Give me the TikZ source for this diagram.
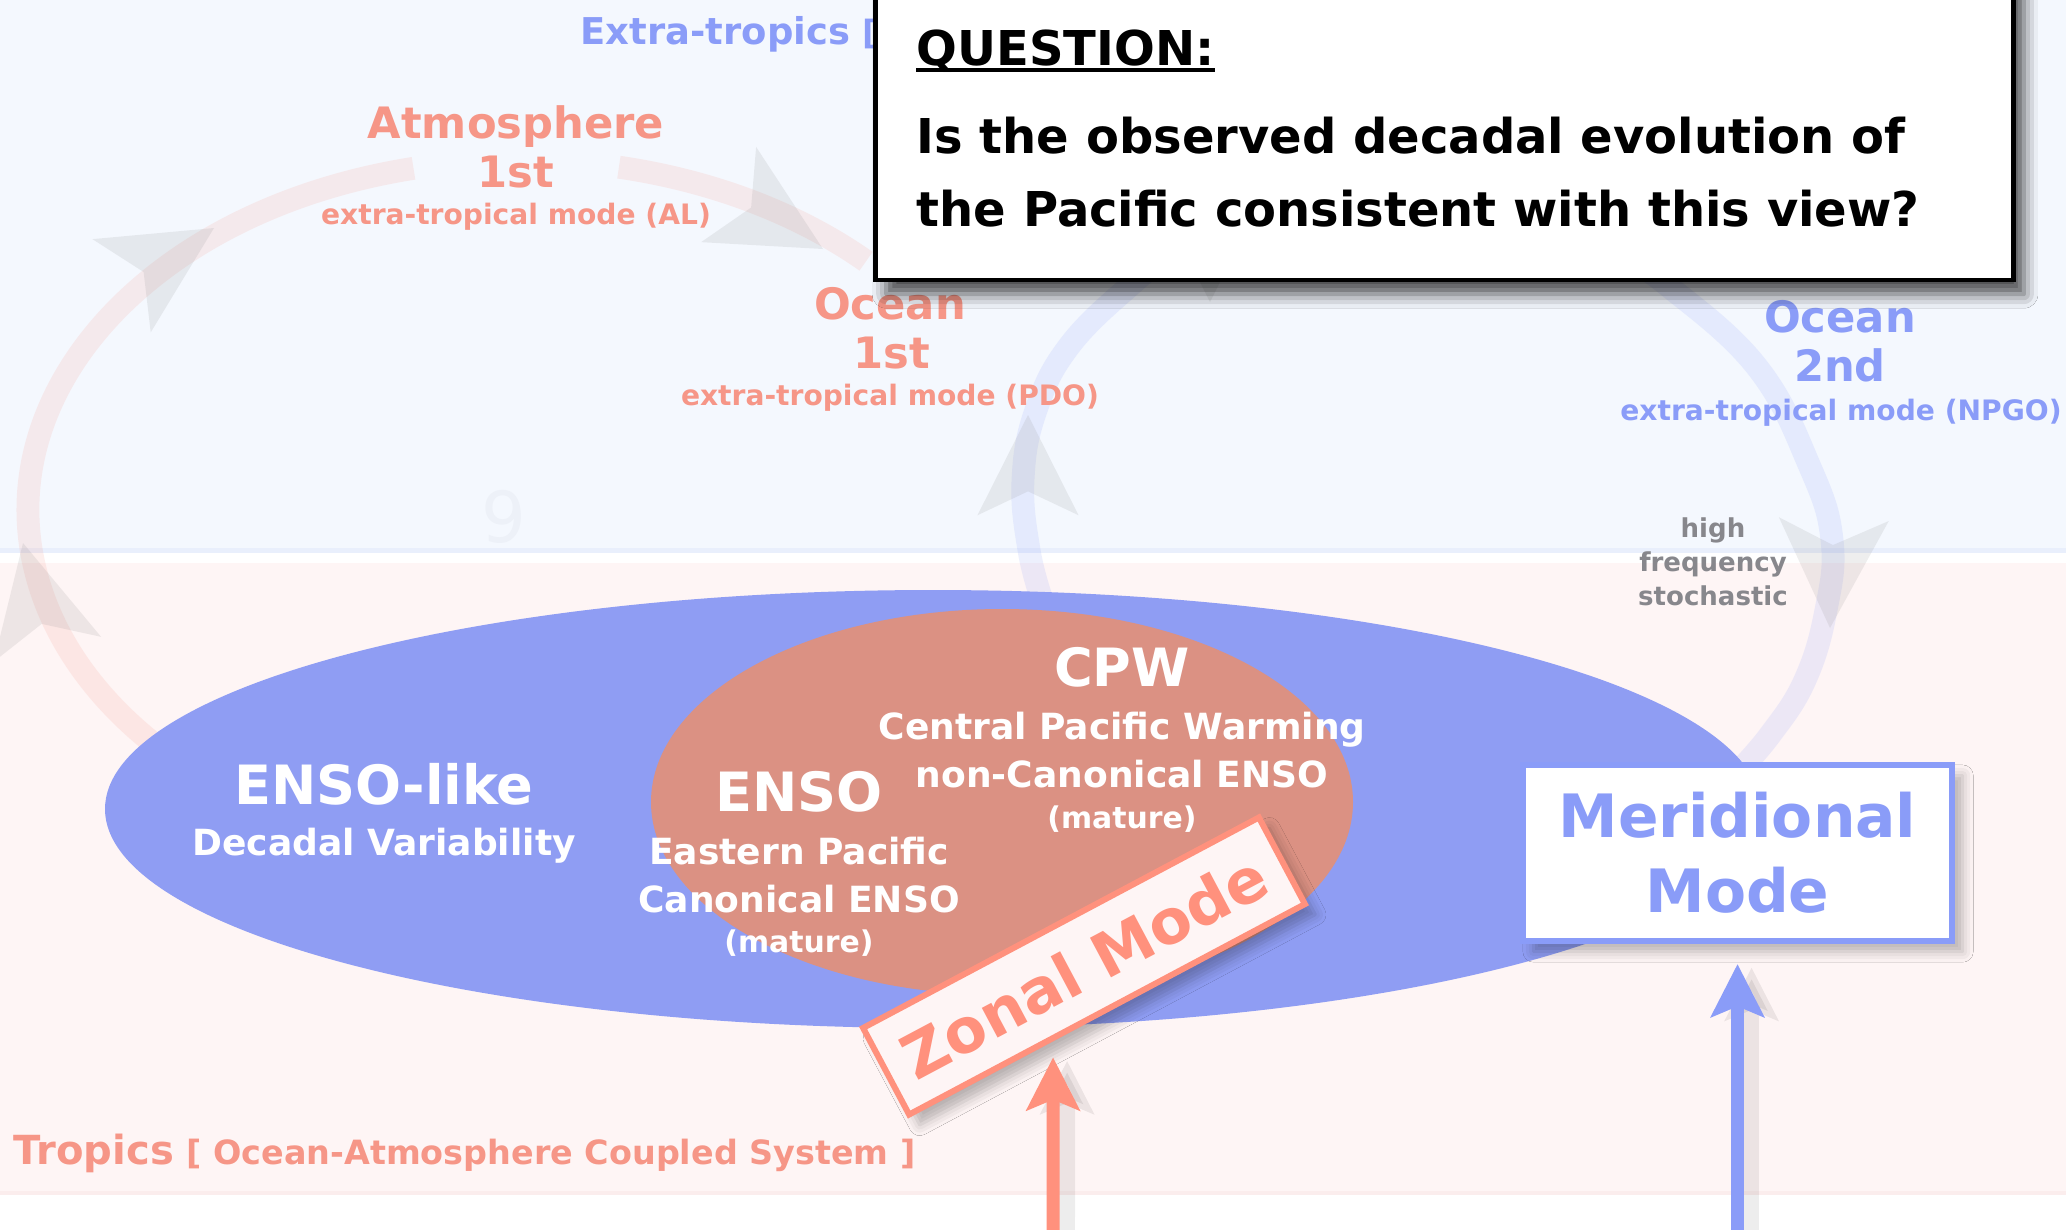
\documentclass[tikz,border=0pt]{standalone}
\usepackage{fontspec}
\setmainfont{DejaVu Sans}
\usetikzlibrary{arrows.meta,calc,shadows.blur}

\definecolor{skybg}{RGB}{244,248,254}
\definecolor{skyline}{RGB}{233,239,252}
\definecolor{pinkbg}{RGB}{254,245,245}
\definecolor{pinkline}{RGB}{251,237,237}
\definecolor{salmon}{RGB}{246,150,135}
\definecolor{zonalred}{RGB}{255,145,125}
\definecolor{modeblue}{RGB}{138,156,248}
\definecolor{decadal}{RGB}{143,157,243}
\definecolor{ensofill}{RGB}{219,145,131}
\definecolor{hfgray}{RGB}{135,135,140}
\definecolor{pagegray}{RGB}{237,241,248}

\newcommand{\fs}[1]{\fontsize{#1}{#1}\selectfont}
% faint grey arrowheads sitting on the cycles
\newcommand{\ghosthead}[4][1]{\fill[gray, opacity=0.13, shift={(#2,#3)}, rotate=#4, scale=#1] (0,0) -- (-109,55) -- (-83,0) -- (-109,-55) -- cycle;}

\begin{document}
\begin{tikzpicture}[x=0.01cm, y=-0.01cm, every node/.style={font=\bfseries, inner sep=0pt},
  >={Stealth[length=15pt, width=15pt, inset=3pt]},
  big/.style={font=\bfseries\fs{12.3}, anchor=base},
  small/.style={font=\bfseries\fs{8}, anchor=base},
  head/.style={font=\bfseries\fs{15.4}, text=white, anchor=base},
  sub/.style={font=\bfseries\fs{10.25}, text=white, anchor=base},
  mature/.style={font=\bfseries\fs{8.5}, text=white, anchor=base},
  hf/.style={font=\bfseries\fs{7.4}, text=hfgray, anchor=base},
  ring/.style={line width=6.5pt, opacity=0.15},
  qtext/.style={font=\bfseries\fs{13.65}, anchor=base west},
  boxshadow/.style={blur shadow={shadow xshift=3pt, shadow yshift=-3pt, shadow blur radius=3pt, shadow opacity=28}},
  arrowshadow/.style={->, line width=4.5pt, black, opacity=0.07, transform canvas={xshift=4pt, yshift=-1pt}}]
	\useasboundingbox (0,0) rectangle (2066,1229);
	\clip (0,0) rectangle (2066,1229);
	\fill[white] (0,0) rectangle (2066,1229);
	% bands
	\fill[skybg] (0,0) rectangle (2066,553);
	\fill[skyline] (0,548) rectangle (2066,553);
	\fill[pinkbg] (0,563) rectangle (2066,1195);
	\fill[pinkline] (0,1191) rectangle (2066,1195);
	% cycles
	\draw[ring, salmon] ([shift={(257.5:492 and 350)}]520,510) arc[start angle=257.5, end angle=133, x radius=492, y radius=350];
	\draw[ring, salmon] ([shift={(281.6:492 and 350)}]520,510) arc[start angle=281.6, end angle=314.7, x radius=492, y radius=350];
	\draw[ring, modeblue] plot[smooth, tension=0.7] coordinates {(1042,600) (1029,550) (1023,480) (1036,410) (1070,345) (1133,283) (1170,255)};
	\draw[ring, modeblue] plot[smooth, tension=0.7] coordinates {(1630,262) (1667,285) (1757,367) (1810,467) (1832,540) (1826,610) (1805,680) (1770,735) (1735,775)};
	\ghosthead{23}{543}{103}
	\ghosthead{214}{228}{32}
	\ghosthead{823}{249}{-30}
	\ghosthead[0.92]{1028}{415}{90}
	\ghosthead{1830}{628}{-92}
	\ghosthead{1210}{302}{-90}
	\node[font=\fs{20}, text=pagegray] (pagenum) at (504,517) {9};
	% tropical modes
	\fill[decadal] (933,809) ellipse[x radius=828, y radius=219];
	\fill[ensofill] (1002,802) ellipse[x radius=351, y radius=193];
	\node[head] (ensolike) at (384,804) {ENSO-like};
	\node[sub] (decvar) at (384,855) {Decadal Variability};
	\node[head] (enso) at (799,811) {ENSO};
	\node[sub] (eastpac) at (799,864) {Eastern Pacific};
	\node[sub] (canon) at (799,912) {Canonical ENSO};
	\node[mature] (epmature) at (799,952) {(mature)};
	\node[head, font=\bfseries\fs{15}] (cpw) at (1122,686) {CPW};
	\node[sub] (cpwarm) at (1122,739) {Central Pacific Warming};
	\node[sub] (noncanon) at (1122,787) {non-Canonical ENSO};
	\node[mature] (cpmature) at (1122,828) {(mature)};
	\node[boxshadow, rotate=28, fill=pinkbg, draw=zonalred, line width=1.7pt, text=zonalred,
		minimum width=4.48cm, minimum height=0.98cm, font=\bfseries\fs{17.5}] (zonal) at (1084,966) {Zonal Mode};
	\node[boxshadow, fill=white, draw=modeblue, line width=1.7pt, text=modeblue, align=center,
		minimum width=4.29cm, minimum height=1.76cm, font=\bfseries\fontsize{17}{21.3}\selectfont] (merid) at (1737.5,853) {Meridional\\Mode};
	\coordinate (zfoot) at (1053,1240);
	\coordinate (ztip) at ($(zonal.south west)!0.362!(zonal.south east)$);
	\coordinate (mfoot) at (1737.5,1240);
	\draw[arrowshadow, shorten >=0.16cm] (zfoot) -- (ztip);
	\draw[arrowshadow, shorten >=0.2cm] (mfoot) -- (merid.south);
	\draw[->, line width=3.7pt, zonalred, shorten >=0.16cm] (zfoot) -- (ztip);
	\draw[->, line width=3.7pt, modeblue, shorten >=0.2cm] (mfoot) -- (merid.south);
	% extra-tropical modes
	\node[big, text=salmon] (atm) at (516,138) {Atmosphere};
	\node[big, text=salmon] (atmrank) at (516,187) {1st};
	\node[small, text=salmon] (atmmode) at (516,224) {extra-tropical mode (AL)};
	\node[big, text=salmon] (ocnA) at (890,319) {Ocean};
	\node[big, text=salmon] (ocnArank) at (892,368) {1st};
	\node[small, text=salmon] (ocnAmode) at (890,405) {extra-tropical mode (PDO)};
	\node[big, text=modeblue] (ocnB) at (1840,332) {Ocean};
	\node[big, text=modeblue] (ocnBrank) at (1840,381) {2nd};
	\node[small, text=modeblue] (ocnBmode) at (1841,420) {extra-tropical mode (NPGO)};
	\node[hf] (hfA) at (1713,537) {high};
	\node[hf] (hfB) at (1713,571) {frequency};
	\node[hf] (hfC) at (1713,605) {stochastic};
	\node[anchor=base west, text=salmon] (tropics) at (13,1164) {{\fs{11.4}Tropics} {\fs{9.5}[ Ocean-Atmosphere Coupled System ]}};
	\node[anchor=base west, text=modeblue] (extratropics) at (580,44) {{\fs{10.5}Extra-tropics} {\fs{9.5}[}};
	% question
	\node[fill=white, draw=black, line width=1.3pt, minimum width=11.37cm, minimum height=3.1cm,
		blur shadow={shadow xshift=3pt, shadow yshift=-4pt, shadow blur radius=4pt, shadow opacity=70}] (question) at (1444.5,125) {};
	\node[qtext] (qhead) at (916,65) {QUESTION:};
	\draw[line width=1.2pt] ([yshift=-1.4pt]qhead.base west) -- ([yshift=-1.4pt]qhead.base east);
	\node[qtext] (qlineA) at (916,153) {Is the observed decadal evolution of};
	\node[qtext] (qlineB) at (916,226) {the Pacific consistent with this view?};
\end{tikzpicture}
\end{document}
